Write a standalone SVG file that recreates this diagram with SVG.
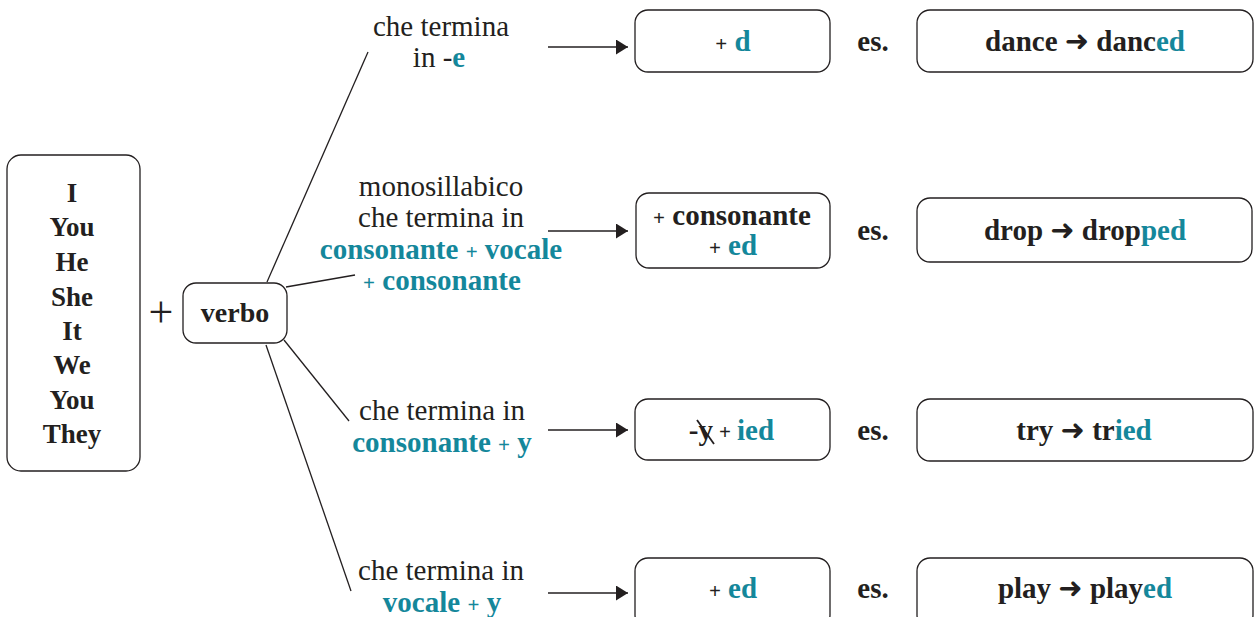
<svg xmlns="http://www.w3.org/2000/svg" width="1258" height="617" viewBox="0 0 1258 617">
<style>
.t{font-family:"Liberation Serif","DejaVu Serif",serif;font-size:29px;fill:#231f20;text-anchor:middle}
.b{font-weight:bold}
.c{fill:#14879b}
.p{font-size:21px}
.ar{font-family:"DejaVu Sans",sans-serif;font-size:29px;font-weight:bold}
.box{fill:#fff;stroke:#231f20;stroke-width:1.3}
.ln{stroke:#231f20;stroke-width:1.3;fill:none}
</style>
<defs>
<marker id="ah" markerUnits="userSpaceOnUse" markerWidth="14" markerHeight="16" refX="12" refY="7.5" orient="auto">
<path d="M0,0 L12,7.5 L0,15 z" fill="#231f20"/>
</marker>
</defs>
<rect width="1258" height="617" fill="#fff"/>

<g id="connectors">
<path class="ln" d="M267,282 L368,52"/>
<path class="ln" d="M286,287 L355,275"/>
<path class="ln" d="M284,340 L349,421"/>
<path class="ln" d="M266,345 L351,591"/>
<path class="ln" d="M548,47 H628" marker-end="url(#ah)"/>
<path class="ln" d="M548,231 H628" marker-end="url(#ah)"/>
<path class="ln" d="M548,430 H628" marker-end="url(#ah)"/>
<path class="ln" d="M548,593 H628" marker-end="url(#ah)"/>
</g>

<g id="pronouns">
<rect class="box" x="7" y="155" width="133" height="316" rx="14"/>
<text class="t b" style="font-size:27px" x="72" y="202">I</text>
<text class="t b" style="font-size:27px" x="72" y="236">You</text>
<text class="t b" style="font-size:27px" x="72" y="271">He</text>
<text class="t b" style="font-size:27px" x="72" y="306">She</text>
<text class="t b" style="font-size:27px" x="72" y="340">It</text>
<text class="t b" style="font-size:27px" x="72" y="374">We</text>
<text class="t b" style="font-size:27px" x="72" y="409">You</text>
<text class="t b" style="font-size:27px" x="72" y="443">They</text>
</g>

<g id="plus">
<text class="t" style="font-size:44px" x="161" y="327">+</text>
</g>

<g id="verbo">
<rect class="box" x="183" y="283" width="104" height="60" rx="13"/>
<text class="t b" style="font-size:28px" x="235" y="322">verbo</text>
</g>

<g id="cond-e">
<text class="t" x="441" y="36">che termina</text>
<text class="t" x="439" y="67">in -<tspan class="b c">e</tspan></text>
</g>

<g id="cond-cvc">
<text class="t" x="441" y="196">monosillabico</text>
<text class="t" x="441" y="227">che termina in</text>
<text class="t b c" x="441" y="259">consonante <tspan class="p">+</tspan> vocale</text>
<text class="t b c" x="442" y="290"><tspan class="p">+</tspan> consonante</text>
</g>

<g id="cond-cy">
<text class="t" x="442" y="420">che termina in</text>
<text class="t b c" x="442" y="452">consonante <tspan class="p">+</tspan> y</text>
</g>

<g id="cond-vy">
<text class="t" x="441" y="580">che termina in</text>
<text class="t b c" x="442" y="612">vocale <tspan class="p">+</tspan> y</text>
</g>

<g id="rule-d">
<rect class="box" x="635" y="10" width="195" height="62" rx="13"/>
<text class="t b" x="733" y="51"><tspan class="p">+</tspan> <tspan class="c">d</tspan></text>
</g>

<g id="rule-ced">
<rect class="box" x="636" y="193" width="194" height="75" rx="13"/>
<text class="t b" x="732" y="225"><tspan class="p">+</tspan> consonante</text>
<text class="t b" x="733" y="255"><tspan class="p">+</tspan> <tspan class="c">ed</tspan></text>
</g>

<g id="rule-ied">
<rect class="box" x="635" y="399" width="195" height="61" rx="13"/>
<text class="t b" style="text-anchor:end" x="713" y="440">-y</text>
<path class="ln" style="stroke-width:1.8" d="M697,420 L714,444"/>
<text class="t b p" x="725" y="439">+</text>
<text class="t b c" style="text-anchor:start" x="737" y="440">ied</text>
</g>

<g id="rule-ed">
<rect class="box" x="635" y="558" width="195" height="70" rx="13"/>
<text class="t b" x="733" y="598"><tspan class="p">+</tspan> <tspan class="c">ed</tspan></text>
</g>

<g id="es-labels">
<text class="t b" x="873" y="51">es.</text>
<text class="t b" x="873" y="240">es.</text>
<text class="t b" x="873" y="440">es.</text>
<text class="t b" x="873" y="598">es.</text>
</g>

<g id="ex-dance">
<rect class="box" x="917" y="10" width="336" height="62" rx="13"/>
<text class="t b" x="1085" y="51">dance <tspan class="ar">➜</tspan> danc<tspan class="c">ed</tspan></text>
</g>

<g id="ex-drop">
<rect class="box" x="917" y="198" width="335" height="64" rx="13"/>
<text class="t b" x="1085" y="240">drop <tspan class="ar">➜</tspan> drop<tspan class="c">ped</tspan></text>
</g>

<g id="ex-try">
<rect class="box" x="917" y="399" width="336" height="62" rx="13"/>
<text class="t b" x="1084" y="440">try <tspan class="ar">➜</tspan> tr<tspan class="c">ied</tspan></text>
</g>

<g id="ex-play">
<rect class="box" x="917" y="558" width="336" height="70" rx="13"/>
<text class="t b" x="1085" y="598">play <tspan class="ar">➜</tspan> play<tspan class="c">ed</tspan></text>
</g>
</svg>
